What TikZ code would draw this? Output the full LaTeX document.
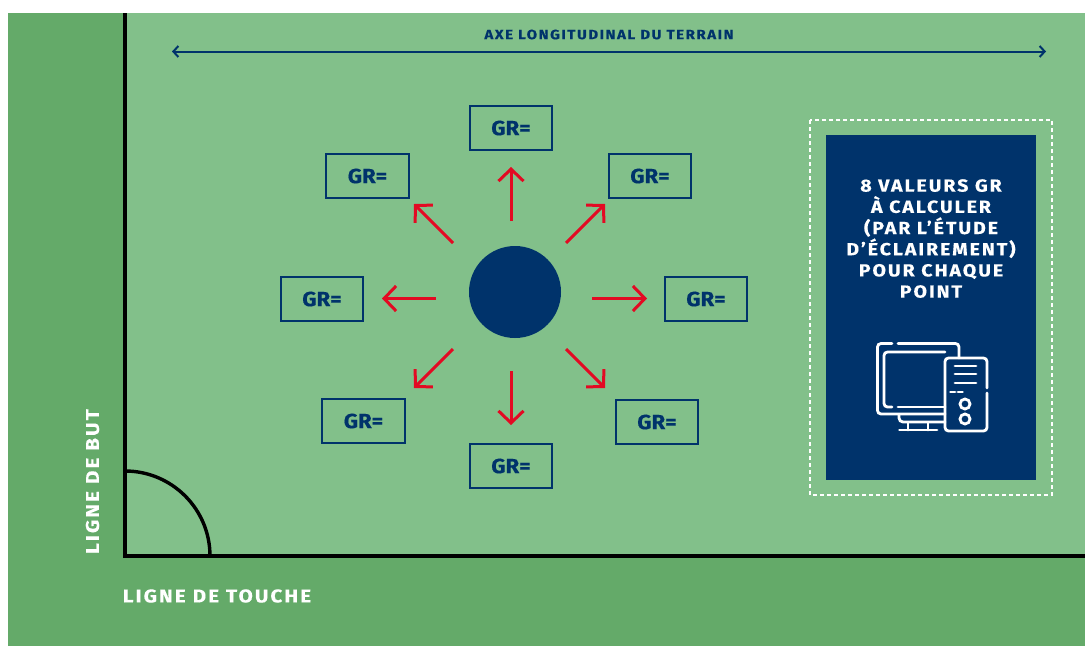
\documentclass[tikz,border=0pt]{standalone}
\usepackage{fontspec}
\setmainfont{Fira Sans}[BoldFont={Fira Sans Bold}]
\newfontfamily\lblfont{Fira Sans Bold}[LetterSpace=11,FakeBold=0.3,FakeStretch=1.12]
\newfontfamily\grfont{Fira Sans Bold}[FakeBold=0.4,FakeStretch=1.08]
\usetikzlibrary{arrows.meta}
\definecolor{outergreen}{HTML}{64AA69}
\definecolor{innergreen}{HTML}{82C08A}
\definecolor{navy}{HTML}{00336B}
\definecolor{redarrow}{HTML}{E30A23}
\tikzset{
  grbox/.style={draw=navy,line width=1.8pt,minimum width=82.5pt,minimum height=44.5pt,inner sep=0pt,
    text=navy,font=\grfont\fontsize{20.5}{20.5}\selectfont},
  redarr/.style={draw=redarrow,line width=3pt,-{Straight Barb[length=12pt,width=25pt,line width=3pt]}},
  fieldline/.style={draw=black,line width=3.4pt},
  whitelbl/.style={text=white,font=\lblfont\fontsize{18.5}{18.5}\selectfont,inner sep=0pt},
  iconline/.style={draw=white,line width=2.8pt,rounded corners=3.5pt,line cap=round},
}
\begin{document}
\begin{tikzpicture}[x=1pt,y=-1pt]
\useasboundingbox (0,0) rectangle (1085,646);
\fill[white] (0,0) rectangle (1085,646);
\fill[outergreen] (8,13) rectangle (1085,646);
\fill[innergreen] (125,13) rectangle (1085,556);
% field lines
\coordinate (ftop) at (125,13);
\coordinate (fcorner) at (125,556);
\coordinate (fright) at (1085,556);
\draw[fieldline,line join=miter] (ftop) -- (fcorner) -- (fright);
\draw[fieldline] (125,471) arc[start angle=-90,end angle=0,radius=85];
\node[whitelbl,rotate=90] (but) at (92.5,481.5) {LIGNE DE BUT};
\node[whitelbl] (touche) at (217,596) {LIGNE DE TOUCHE};
% axis
\node[text=navy,font=\lblfont\fontsize{13.5}{13.5}\selectfont,inner sep=0pt] (axe) at (609,34.5) {AXE LONGITUDINAL DU TERRAIN};
\coordinate (axeL) at (172,51.5);
\coordinate (axeR) at (1046,51.5);
\draw[navy,line width=2pt,{Straight Barb[length=5pt,width=11pt,line width=2pt]}-{Straight Barb[length=5pt,width=11pt,line width=2pt]}] (axeL) -- (axeR);
% hub
\node[circle,fill=navy,minimum size=92pt,inner sep=0pt] (hub) at (515,292) {};
% boxes
\node[grbox] (t)  at (511,128) {GR=};
\node[grbox] (ur) at (650,176) {GR=};
\node[grbox] (ul) at (367.5,176) {GR=};
\node[grbox] (l)  at (322,299) {GR=};
\node[grbox] (r)  at (706,299) {GR=};
\node[grbox] (dl) at (363.5,421) {GR=};
\node[grbox] (d)  at (511,466) {GR=};
\node[grbox] (dr) at (657,422) {GR=};
% arrows
\foreach \nm/\xa/\ya/\xb/\yb in {t/511/221/511/167,ur/566/243/605/204,ul/453/243/414/204,l/436/298.5/382/298.5,r/592/298.5/647/298.5,dl/453/349/414/388,d/511/371/511/425,dr/566/349/605/388}{
  \coordinate (s\nm) at (\xa,\ya);
  \coordinate (e\nm) at (\xb,\yb);
  \draw[redarr] (s\nm) -- (e\nm);
}
% panel
\draw[white,line width=1.2pt,dash pattern=on 4pt off 3pt] (810,120) rectangle (1052,495);
\node[fill=navy,minimum width=210pt,minimum height=345pt,inner sep=0pt] (panel) at (931,307.5) {};
\node[text=white,font=\lblfont\fontsize{17.5}{21.2}\selectfont,align=center,inner sep=0pt,anchor=north] (ptxt) at (931,179)
  {8 VALEURS GR\\À CALCULER\\(PAR L’ÉTUDE\\D’ÉCLAIREMENT)\\POUR CHAQUE\\POINT};
% computer icon
\draw[iconline] (892,343.5) -- (877.5,343.5) -- (877.5,414) -- (945,414);
\draw[iconline] (898,343.5) -- (959,343.5) -- (959,358);
\draw[iconline] (892,407) -- (884,407) -- (884,352) -- (945,352);
\draw[iconline] (898,407) -- (945,407);
\draw[iconline] (987,388) -- (987,358) -- (945,358) -- (945,431) -- (987,431) -- (987,393);
\draw[iconline,rounded corners=0pt] (955,366) -- (976,366) (955,374) -- (976,374) (955,383) -- (976,383);
\draw[iconline,rounded corners=0pt] (950.5,392) -- (955,392) (958,392) -- (962.5,392);
\draw[white,line width=2.8pt] (965,404) circle[radius=5] (965,419) circle[radius=5];
\draw[iconline,rounded corners=0pt] (908,423) -- (908,430) (928,423) -- (928,430) (899.5,430) -- (937,430);
\draw[iconline,rounded corners=4pt] (899,415) -- (899,422) -- (945,422);
\end{tikzpicture}
\end{document}
